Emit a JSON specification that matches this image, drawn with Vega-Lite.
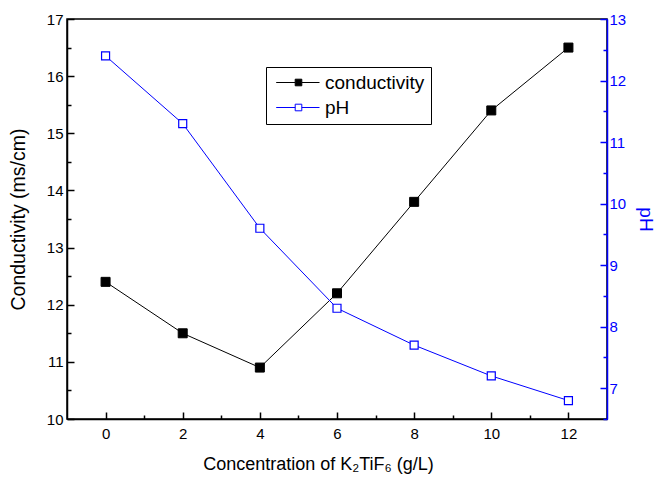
{
  "$schema": "https://vega.github.io/schema/vega-lite/v6.json",
  "width": 540,
  "height": 400,
  "autosize": "none",
  "padding": {"left": 67, "top": 19, "right": 49, "bottom": 61},
  "background": "white",
  "config": {
    "font": "Liberation Sans",
    "view": {"stroke": "black", "strokeWidth": 1.5},
    "axis": {"grid": false, "labelFontSize": 15, "titleFontSize": 18, "titleFontWeight": "normal", "domainWidth": 1.5, "tickWidth": 1.5}
  },
  "data": {
    "values": [
      {"conc": 0, "series": "conductivity", "value": 12.4},
      {"conc": 2, "series": "conductivity", "value": 11.5},
      {"conc": 4, "series": "conductivity", "value": 10.9},
      {"conc": 6, "series": "conductivity", "value": 12.2},
      {"conc": 8, "series": "conductivity", "value": 13.8},
      {"conc": 10, "series": "conductivity", "value": 15.4},
      {"conc": 12, "series": "conductivity", "value": 16.5},
      {"conc": 0, "series": "pH", "value": 12.4},
      {"conc": 2, "series": "pH", "value": 11.3},
      {"conc": 4, "series": "pH", "value": 9.6},
      {"conc": 6, "series": "pH", "value": 8.3},
      {"conc": 8, "series": "pH", "value": 7.7},
      {"conc": 10, "series": "pH", "value": 7.2},
      {"conc": 12, "series": "pH", "value": 6.8}
    ]
  },
  "encoding": {
    "x": {
      "field": "conc",
      "type": "quantitative",
      "scale": {"domain": [-1, 13], "nice": false},
      "axis": {
        "values": [0, 1, 2, 3, 4, 5, 6, 7, 8, 9, 10, 11, 12],
        "labelExpr": "datum.value % 2 == 0 ? datum.label : ''",
        "tickSize": {"condition": {"test": "datum.value % 2 == 0", "value": -7}, "value": -4},
        "title": "Concentration of K₂TiF₆ (g/L)",
        "titleX": 251,
        "domainColor": "black",
        "tickColor": "black",
        "labelColor": "black",
        "titleColor": "black",
        "labelPadding": 14,
        "titlePadding": 14
      }
    },
    "stroke": {
      "field": "series",
      "type": "nominal",
      "scale": {"domain": ["conductivity", "pH"], "range": ["black", "blue"]},
      "legend": {
        "orient": "none",
        "legendX": 199,
        "legendY": 48,
        "title": null,
        "symbolType": "M-1.06,0H2.74M4.06,0H7.6M2.74,-0.66H4.06V0.66H2.74Z",
        "symbolSize": 100,
        "symbolStrokeWidth": 1,
        "labelFontSize": 19,
        "labelColor": "black",
        "labelOffset": 34,
        "strokeColor": "black",
        "padding": 6,
        "rowPadding": 5
      }
    }
  },
  "layer": [
    {
      "transform": [{"filter": "datum.series == 'conductivity'"}],
      "encoding": {
        "y": {
          "field": "value",
          "type": "quantitative",
          "scale": {"domain": [10, 17], "nice": false, "zero": false},
          "axis": {
            "orient": "left",
            "values": [10, 10.5, 11, 11.5, 12, 12.5, 13, 13.5, 14, 14.5, 15, 15.5, 16, 16.5, 17],
            "labelExpr": "datum.value % 1 == 0 ? format(datum.value, 'd') : ''",
            "tickSize": {"condition": {"test": "datum.value % 1 == 0", "value": -7}, "value": -4},
            "title": "Conductivity (ms/cm)",
            "titleFontSize": 19.5,
            "domainColor": "black",
            "tickColor": "black",
            "labelColor": "black",
            "titleColor": "black",
            "labelPadding": 11,
            "titlePadding": 18
          }
        }
      },
      "layer": [
        {"mark": {"type": "line", "strokeWidth": 1}},
        {
          "mark": {"type": "point", "shape": "square", "filled": true, "size": 81, "opacity": 1, "strokeWidth": 1},
          "encoding": {
            "fill": {
              "field": "series",
              "type": "nominal",
              "scale": {"domain": ["conductivity", "pH"], "range": ["black", "white"]},
              "legend": {
                "orient": "none",
                "legendX": 199,
                "legendY": 48,
                "title": null,
                "symbolType": "M-1.06,0H2.74M4.06,0H7.6M2.74,-0.66H4.06V0.66H2.74Z",
                "symbolSize": 100,
                "symbolStrokeWidth": 1,
                "labelFontSize": 19,
                "labelColor": "black",
                "labelOffset": 34,
                "strokeColor": "black",
                "padding": 6,
                "rowPadding": 5
              }
            }
          }
        }
      ]
    },
    {
      "transform": [{"filter": "datum.series == 'pH'"}],
      "encoding": {
        "y": {
          "field": "value",
          "type": "quantitative",
          "scale": {"domain": [6.5, 13], "nice": false, "zero": false},
          "axis": {
            "orient": "right",
            "values": [6.5, 7, 7.5, 8, 8.5, 9, 9.5, 10, 10.5, 11, 11.5, 12, 12.5, 13],
            "labelExpr": "datum.value % 1 == 0 ? format(datum.value, 'd') : ''",
            "tickSize": {"condition": {"test": "datum.value % 1 == 0", "value": -7}, "value": -4},
            "title": "pH",
            "titleFontSize": 19,
            "domainColor": "blue",
            "tickColor": "blue",
            "labelColor": "blue",
            "titleColor": "blue",
            "labelPadding": 9,
            "titlePadding": 10
          }
        }
      },
      "layer": [
        {"mark": {"type": "line", "strokeWidth": 1}},
        {
          "mark": {"type": "point", "shape": "square", "filled": true, "size": 64, "strokeWidth": 1.2, "opacity": 1},
          "encoding": {
            "fill": {
              "field": "series",
              "type": "nominal",
              "scale": {"domain": ["conductivity", "pH"], "range": ["black", "white"]}
            }
          }
        }
      ]
    }
  ],
  "resolve": {"scale": {"y": "independent"}}
}
